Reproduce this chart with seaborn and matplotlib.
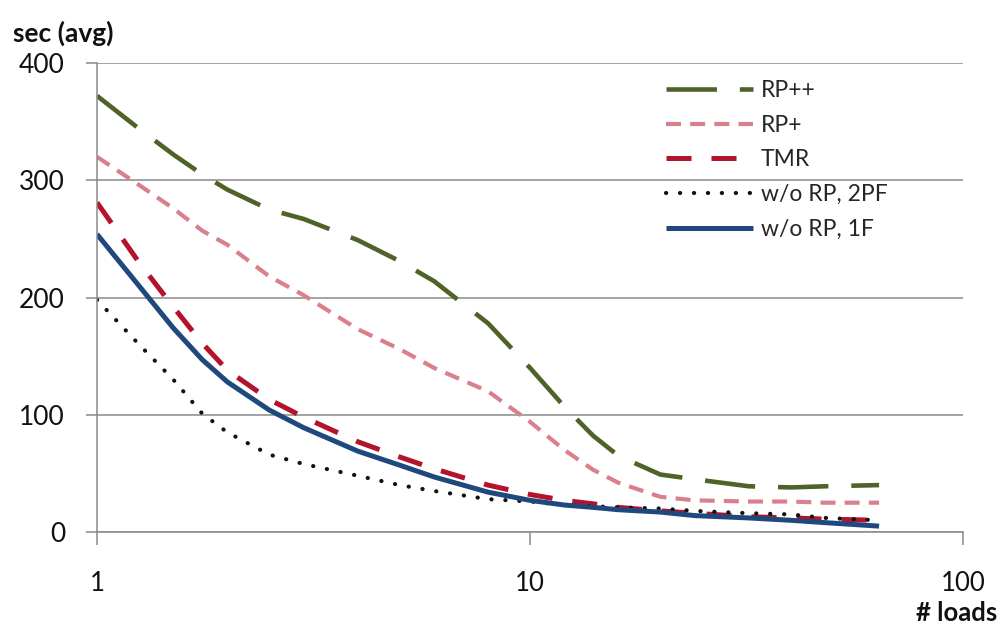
import matplotlib
matplotlib.use("Agg")
import matplotlib.pyplot as plt
from matplotlib.ticker import FuncFormatter, NullLocator, FixedLocator
import seaborn as sns
import pandas as pd

# ---- data ----
loads = [1, 1.25, 1.5, 1.75, 2, 2.5, 3, 4, 5, 6, 8, 10, 12, 14, 16, 20, 24, 32, 40, 48, 64]
rp_pp = [372, 344, 322, 305, 292, 275, 267, 249, 231, 214, 178, 140, 107, 82, 65, 49, 45, 39, 38, 39, 40]
rp_p = [320, 296, 276, 257, 245, 218, 202, 173, 156, 140, 120, 94, 70, 53, 42, 30, 27, 26, 26, 25, 25]
tmr = [281, 230, 192, 161, 138, 113, 98, 77, 64, 54, 40, 32, 27, 24, 21, 18, 16, 13, 12, 11, 10]
wo_2pf = [198, 160, 130, 101, 85, 66, 58, 48, 40, 35, 28, 26, 23, 22, 21, 20, 18, 16, 15, 12, 10]
wo_1f = [254, 210, 174, 147, 128, 104, 89, 69, 57, 47, 34, 27, 23, 21, 19, 17, 14, 12, 10, 8, 5]

series_names = ["RP++", "RP+", "TMR", "w/o RP, 2PF", "w/o RP, 1F"]
series_vals = [rp_pp, rp_p, tmr, wo_2pf, wo_1f]
y_ticks = [0, 100, 200, 300, 400]
x_ticks = [1, 10, 100]

sns.set_style("white")
plt.rcParams["font.family"] = ["Lato", "DejaVu Sans"]

styles = {
    "RP++": dict(color="#4F6228", lw=3.3, ls=(0, (11, 5)), cap="butt"),
    "RP+": dict(color="#D9808C", lw=3.0, ls=(0, (3.6, 2.2)), cap="butt"),
    "TMR": dict(color="#B3132B", lw=3.6, ls=(0, (5, 4)), cap="butt"),
    "w/o RP, 2PF": dict(color="#111111", lw=3.0, ls=(0, (0.05, 3.3)), cap="round"),
    "w/o RP, 1F": dict(color="#1F497D", lw=3.6, ls="-", cap="butt"),
}

fig = plt.figure(figsize=(9.98, 6.30), dpi=100)
ax = fig.add_axes([97 / 998, 1 - 532 / 630, (963 - 97) / 998, (532 - 63) / 630])

for name, vals in zip(series_names, series_vals):
    st = styles[name]
    df = pd.DataFrame({"loads": loads, "sec": vals})
    sns.lineplot(data=df, x="loads", y="sec", ax=ax, color=st["color"],
                 linewidth=st["lw"], linestyle=st["ls"], label=name,
                 dash_capstyle=st["cap"], solid_capstyle="butt",
                 solid_joinstyle="round", dash_joinstyle="round")

ax.set_xscale("log")
ax.set_xlim(1, 100)
ax.set_ylim(0, 400)
ax.xaxis.set_major_locator(FixedLocator(x_ticks))
ax.xaxis.set_minor_locator(NullLocator())
ax.xaxis.set_major_formatter(FuncFormatter(lambda v, p: f"{v:g}"))
ax.set_yticks(y_ticks)
ax.set_xlabel("")
ax.set_ylabel("")

gcol = "#8a8a8a"
ax.yaxis.grid(True, color=gcol, lw=1.1)
ax.xaxis.grid(False)
for s in ["top", "right"]:
    ax.spines[s].set_visible(False)
for s in ["left", "bottom"]:
    ax.spines[s].set_color(gcol)
    ax.spines[s].set_linewidth(1.1)
ax.tick_params(axis="y", which="major", direction="out", length=8, width=1.1,
               color=gcol, pad=15, labelsize=19, labelcolor="#111111", left=True)
ax.tick_params(axis="x", which="major", direction="out", length=9, width=1.1,
               color=gcol, pad=19, labelsize=18.5, labelcolor="#111111", bottom=True)

ax.legend(loc="upper left", bbox_to_anchor=(666 / 998, 1 - 80 / 630),
          bbox_transform=fig.transFigure, frameon=False, fontsize=16.5,
          handlelength=3.8, handletextpad=0.35, labelspacing=0.6,
          borderpad=0, borderaxespad=0)

fig.text(13 / 998, 1 - 33 / 630, "sec (avg)", fontsize=19, fontweight="bold",
         ha="left", va="center", color="#111111")
fig.text(997 / 998, 1 - 625 / 630, "# loads", fontsize=18.5, fontweight="bold",
         ha="right", va="bottom", color="#111111")

fig.savefig("out.png", dpi=100, facecolor="white")
